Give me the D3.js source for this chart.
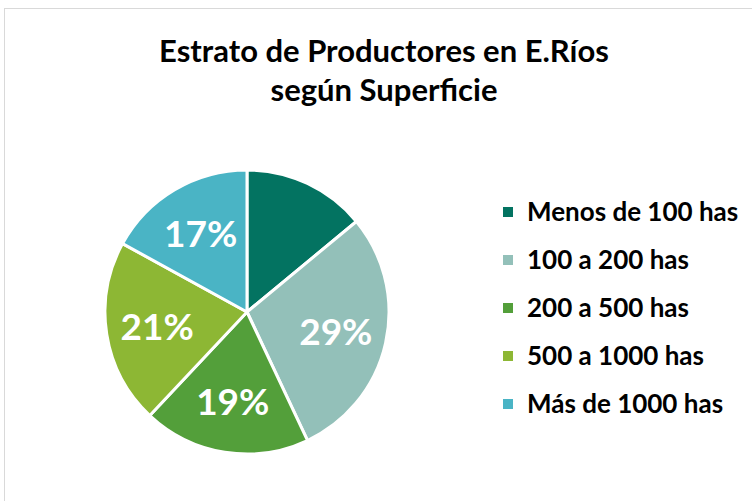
<!DOCTYPE html>
<html><head><meta charset="utf-8">
<script src="https://cdn.jsdelivr.net/npm/d3@7"></script>
<style>body{margin:0;background:#fff}svg{display:block}</style>
</head><body>
<script>
const categories = ["Menos de 100 has","100 a 200 has","200 a 500 has","500 a 1000 has","Más de 1000 has"];
const values = [14, 29, 19, 21, 17];
const colors = ["#037361","#93C0B9","#539F3A","#8DB734","#4AB4C5"];
const showLabel = [false, true, true, true, true];
const titleLines = ["Estrato de Productores en E.Ríos","según Superficie"];

const W = 752, H = 501;
const svg = d3.select("body").append("svg").attr("width", W).attr("height", H);
const font = "Lato, 'Open Sans', sans-serif";

svg.append("rect").attr("x",4.5).attr("y",8.5).attr("width",800).attr("height",600)
  .attr("fill","#fff").attr("stroke","#d9d9d9");

svg.selectAll("text.title").data(titleLines).join("text")
  .attr("class","title")
  .attr("x", 384).attr("y",(d,i)=>62+i*39)
  .attr("text-anchor","middle").attr("font-family",font).attr("font-weight","bold")
  .attr("font-size",31).attr("fill","#000").text(d=>d);

const cx = 247, cy = 312, R = 142;
const pie = d3.pie().sort(null).value(d=>d);
const arcs = pie(values);
const arc = d3.arc().innerRadius(0).outerRadius(R);
const labelArc = d3.arc().innerRadius(91).outerRadius(91);
const g = svg.append("g").attr("transform",`translate(${cx},${cy})`);
g.selectAll("path").data(arcs).join("path")
  .attr("d",arc).attr("fill",(d,i)=>colors[i])
  .attr("stroke","#fff").attr("stroke-width",3).attr("stroke-linejoin","round");
g.selectAll("text").data(arcs.filter((d,i)=>showLabel[i])).join("text")
  .attr("transform",d=>`translate(${labelArc.centroid(d)})`)
  .attr("dy","0.36em").attr("text-anchor","middle")
  .attr("font-family",font).attr("font-weight","bold").attr("font-size",37)
  .attr("fill","#fff").text(d=>d.value+"%");

const lg = svg.append("g");
const rowY = d3.scalePoint().domain(categories).range([212,404]);
const items = lg.selectAll("g").data(categories).join("g")
  .attr("transform",d=>`translate(503,${rowY(d)})`);
items.append("rect").attr("x",0).attr("y",-5).attr("width",10).attr("height",10)
  .attr("fill",(d,i)=>colors[i]);
items.append("text").attr("x",24).attr("y",0).attr("dy","0.36em")
  .attr("font-family",font).attr("font-weight","bold").attr("font-size",26)
  .attr("fill","#000").text(d=>d);
</script>
</body></html>
